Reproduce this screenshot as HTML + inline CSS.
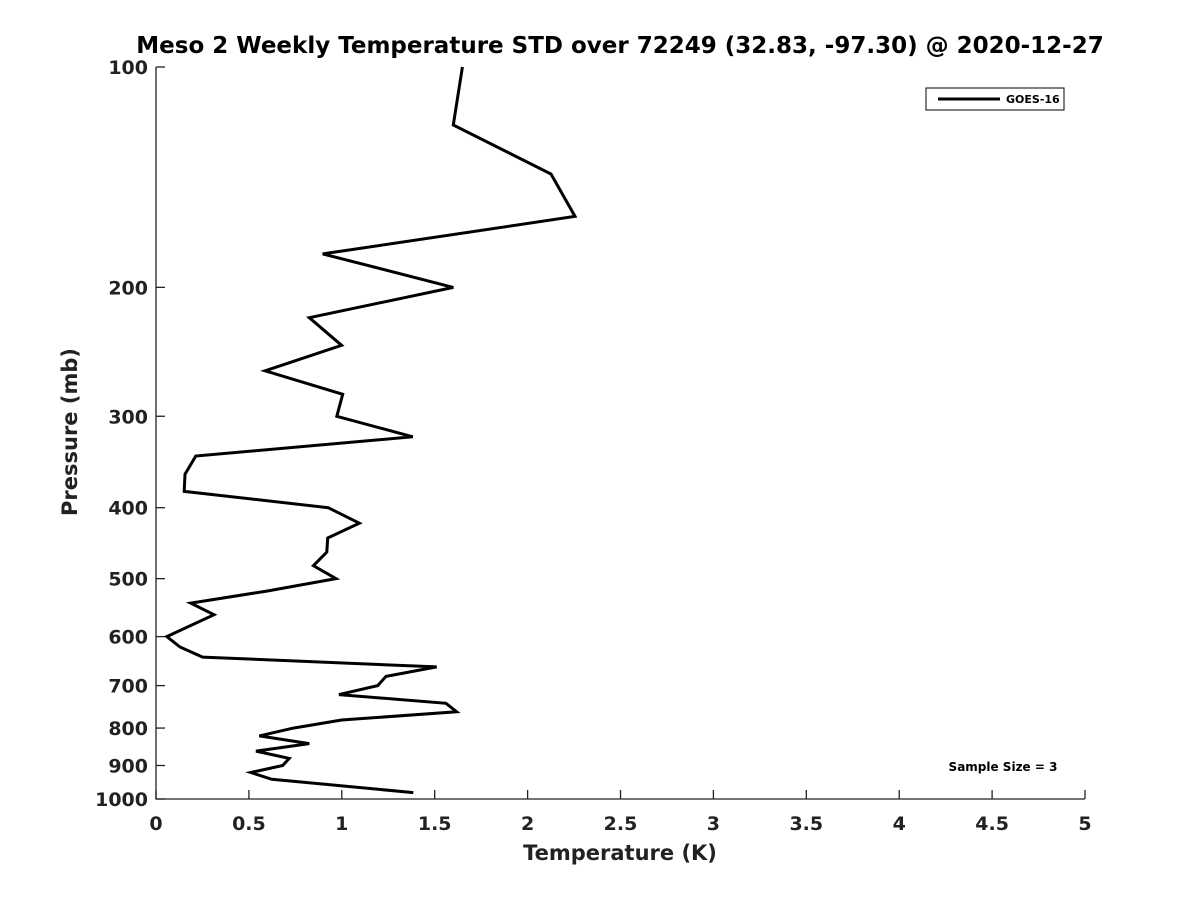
<!DOCTYPE html>
<html><head><meta charset="utf-8"><style>
body{margin:0;background:#fff;}
svg{display:block;font-family:"DejaVu Sans","Liberation Sans",sans-serif;}
</style></head><body>
<svg id="chart" width="1200" height="900" viewBox="0 0 1200 900">
<text x="620" y="53" text-anchor="middle" font-size="23" font-weight="bold">Meso 2 Weekly Temperature STD over 72249 (32.83, -97.30) @ 2020-12-27</text>
<g id="axes"></g>
<text x="620" y="860" text-anchor="middle" font-size="21" font-weight="bold" fill="#222">Temperature (K)</text>
<text transform="translate(77,432) rotate(-90)" text-anchor="middle" font-size="21" font-weight="bold" fill="#222">Pressure (mb)</text>
<g>
<rect x="926" y="88" width="138" height="22" fill="#fff" stroke="#000" stroke-width="1"/>
<line x1="938" y1="99" x2="1000" y2="99" stroke="#000" stroke-width="3"/>
<text x="1006" y="103" font-size="11" font-weight="bold">GOES-16</text>
</g>
<text x="1003" y="771" text-anchor="middle" font-size="12" font-weight="bold">Sample Size = 3</text>
</svg>
<script>
const temps = [1.649,1.600,2.126,2.255,0.897,1.600,0.825,0.999,0.587,1.005,0.973,1.382,0.214,0.156,0.152,0.927,1.094,0.924,0.919,0.847,0.969,0.596,0.187,0.312,0.058,0.129,0.251,1.511,1.238,1.193,0.985,1.561,1.618,0.999,0.739,0.556,0.825,0.538,0.717,0.682,0.510,0.623,1.385];
const pressures = [100,120,140,160,180,200,220,240,260,280,300,320,340,360,380,400,420,440,460,480,500,520,540,560,600,620,640,660,680,700,720,740,760,780,800,820,840,860,880,900,920,940,980];
const xTicks = [0,0.5,1,1.5,2,2.5,3,3.5,4,4.5,5];
const xTickLabels = ["0","0.5","1","1.5","2","2.5","3","3.5","4","4.5","5"];
const yTicks = [100,200,300,400,500,600,700,800,900,1000];
const yTickLabels = ["100","200","300","400","500","600","700","800","900","1000"];

const X0=156,X1=1085,Y0=67,Y1=799;
function xs(v){return X0+(v-0)/(5-0)*(X1-X0);}
function ys(p){return Y0+(Math.log10(p)-2)*(Y1-Y0);}
const NS="http://www.w3.org/2000/svg";
const g=document.getElementById('axes');
function mk(tag,attrs){const e=document.createElementNS(NS,tag);for(const k in attrs)e.setAttribute(k,attrs[k]);g.appendChild(e);return e;}

let ax=mk('path',{d:`M${X0},${Y0} L${X0},${Y1} L${X1},${Y1}`,fill:'none',stroke:'#222','stroke-width':1.3});



xTicks.forEach((t,i)=>{
  const x=xs(t);
  const l=mk('line',{x1:x,y1:Y1,x2:x,y2:Y1-9,stroke:'#222','stroke-width':1.3});
  
  
  const tx=mk('text',{x:x,y:Y1+31,'text-anchor':'middle','font-size':19,'font-weight':'bold',fill:'#222'});
  tx.textContent=xTickLabels[i];
  
  
});
yTicks.forEach((t,i)=>{
  const y=ys(t);
  const l=mk('line',{x1:X0,y1:y,x2:X0+9,y2:y,stroke:'#222','stroke-width':1.3});
  
  
  const tx=mk('text',{x:X0-8,y:y+7,'text-anchor':'end','font-size':19,'font-weight':'bold',fill:'#222'});
  tx.textContent=yTickLabels[i];
  
  
});
const d=temps.map((t,i)=>(i?'L':'M')+xs(t).toFixed(1)+','+ys(pressures[i]).toFixed(1)).join(' ');
const line=mk('path',{d:d,fill:'none',stroke:'#000','stroke-width':3,'stroke-linejoin':'miter'});


</script>
</body></html>
